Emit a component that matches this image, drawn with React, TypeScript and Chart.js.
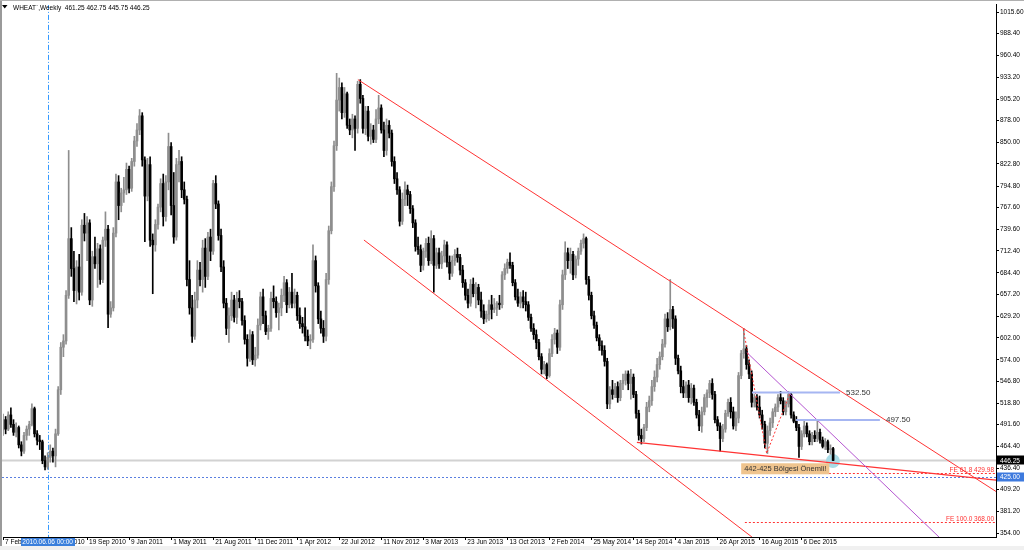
import React, { useEffect, useRef } from 'react';
import { Chart, registerables } from 'chart.js';

Chart.register(...registerables);

type Candle = [number, number, number, number]; // open, high, low, close

const headerText = 'WHEAT`,Weekly  461.25 462.75 445.75 446.25';
const firstWeekUTC = Date.UTC(2010, 1, 7);
const slotCount = 379;
const tickStep = 16;
const monthNames = ['Jan', 'Feb', 'Mar', 'Apr', 'May', 'Jun', 'Jul', 'Aug', 'Sep', 'Oct', 'Nov', 'Dec'];

const candles: Candle[] = [
  [485,505,478,498],[498,502,480,486],[486,508,484,504],[504,513,488,492],[492,498,478,482],
  [482,494,476,488],[488,490,462,466],[466,470,452,458],[458,482,455,478],[478,490,472,486],
  [486,496,478,492],[492,518,490,512],[512,514,476,480],[480,484,466,472],[472,478,460,470],
  [470,472,442,446],[446,452,434,438],[438,456,435,450],[450,466,444,458],[458,462,444,452],
  [452,486,438,480],[480,540,478,536],[536,596,530,590],[590,606,578,598],[598,662,594,656],
  [656,840,652,728],[728,742,680,690],[690,712,648,662],[662,700,645,692],[692,708,650,660],
  [660,752,656,745],[745,760,725,735],[735,756,700,748],[748,752,644,650],[650,712,642,705],
  [705,730,690,696],[696,722,666,715],[715,720,670,676],[676,730,672,726],[726,762,718,740],
  [740,745,615,632],[632,648,628,640],[640,742,636,735],[735,810,730,800],[800,808,752,770],
  [770,792,762,786],[786,806,774,790],[790,824,784,816],[816,820,786,792],[792,830,788,826],
  [826,858,820,852],[852,874,845,866],[866,892,860,884],[884,888,820,828],[828,832,724,782],
  [782,830,776,822],[822,832,718,726],[726,734,658,720],[720,752,712,746],[746,772,740,768],
  [768,804,762,798],[798,810,744,756],[756,808,750,800],[800,862,790,845],[845,850,758,770],
  [770,812,722,730],[730,830,726,822],[822,840,800,826],[826,832,780,790],[790,800,772,778],
  [778,782,668,676],[676,700,632,640],[640,656,596,604],[604,660,600,650],[650,700,640,688],
  [688,698,668,676],[676,726,660,716],[716,728,666,680],[680,736,676,730],[730,740,700,712],
  [712,802,708,798],[798,808,766,772],[772,776,726,732],[732,740,686,692],[692,700,640,646],
  [646,652,606,614],[614,640,596,630],[630,660,624,650],[650,656,622,628],[628,660,620,652],
  [652,662,640,648],[648,652,618,624],[624,630,594,600],[600,606,566,576],[576,612,572,606],
  [606,610,568,574],[574,590,566,580],[580,626,576,618],[618,660,612,654],[654,664,620,630],
  [630,636,606,610],[610,618,600,614],[614,660,610,652],[652,668,640,648],[648,654,628,634],
  [634,646,612,640],[640,664,630,656],[656,680,648,672],[672,676,634,644],[644,666,640,660],
  [660,684,640,646],[646,664,640,656],[656,660,624,630],[630,640,614,620],[620,628,608,616],
  [616,640,598,604],[604,612,592,598],[598,606,588,600],[600,720,596,700],[700,706,660,668],
  [668,672,620,626],[626,636,608,614],[614,624,596,604],[604,684,598,676],[676,744,670,738],
  [738,800,734,794],[794,852,788,846],[846,938,840,904],[904,932,890,920],[920,926,880,888],
  [888,920,882,912],[912,914,868,872],[872,880,860,866],[866,886,856,880],[880,884,840,868],
  [868,928,862,924],[924,930,900,906],[906,910,862,868],[868,896,860,890],[890,896,852,858],
  [858,874,848,866],[866,872,850,854],[854,892,850,880],[880,910,874,894],[894,898,862,866],
  [866,876,832,840],[840,880,834,872],[872,878,856,862],[862,866,820,826],[826,832,798,804],
  [804,812,784,790],[790,794,744,750],[750,786,746,778],[778,800,770,790],[790,796,770,784],
  [784,788,760,766],[766,770,742,748],[748,752,712,718],[718,730,708,714],[714,720,686,694],
  [694,716,688,712],[712,728,704,722],[722,730,694,700],[700,738,696,728],[728,732,660,694],
  [694,716,690,710],[710,716,690,696],[696,712,690,706],[706,726,698,720],[720,724,692,698],
  [698,706,676,684],[684,706,680,700],[700,714,694,708],[708,716,698,704],[704,708,682,688],
  [688,694,666,672],[672,676,650,656],[656,664,640,646],[646,676,642,670],[670,678,654,658],
  [658,672,640,666],[666,670,644,650],[650,660,628,636],[636,644,620,626],[626,636,622,632],
  [632,650,624,644],[644,656,626,638],[638,652,634,640],[640,648,630,646],[646,656,638,644],
  [644,686,640,682],[682,696,676,690],[690,702,684,698],[698,710,690,694],[694,698,668,672],
  [672,676,650,654],[654,664,642,646],[646,660,640,654],[654,662,640,648],[648,660,636,644],
  [644,648,624,628],[628,632,610,614],[614,620,600,606],[606,612,588,596],[596,600,574,578],
  [578,582,556,562],[562,572,556,568],[568,570,550,554],[554,588,552,582],[582,606,578,600],
  [600,614,594,608],[608,612,582,590],[590,650,586,644],[644,688,638,682],[682,724,676,710],
  [710,716,690,700],[700,716,684,708],[708,712,676,682],[682,706,678,702],[702,716,694,712],
  [712,726,708,722],[722,734,716,728],[728,730,670,676],[676,680,650,656],[656,660,626,630],
  [630,636,614,618],[618,622,598,602],[602,606,586,592],[592,598,580,586],[586,592,566,572],
  [572,576,512,518],
  [518,540,512,536],[536,548,524,530],[530,544,526,540],[540,546,520,526],[526,548,522,544],
  [544,556,536,548],[548,560,542,556],[556,560,536,544],[544,562,524,552],[552,556,526,530],
  [530,534,500,506],[506,510,472,478],[478,486,467,474],[474,492,470,488],[488,520,484,514],
  [514,528,508,522],[522,548,516,540],[540,560,534,552],[552,576,546,568],[568,584,562,578],
  [578,600,574,594],[594,632,590,626],[626,634,610,616],[616,676,612,638],[638,642,614,626],
  [626,630,568,576],[576,580,556,560],[560,566,532,540],[540,548,526,532],[532,546,526,542],
  [542,548,520,526],[526,544,518,538],[538,542,516,520],[520,524,500,504],[504,510,484,490],
  [490,514,482,508],[508,530,504,526],[526,536,514,532],[532,548,526,544],[544,550,524,530],
  [530,534,494,498],[498,502,484,490],[490,494,458,474],[474,492,470,486],[486,510,482,506],
  [506,524,502,520],[520,526,500,508],[508,514,486,490],[490,508,484,500],[500,558,494,554],
  [554,586,550,582],[582,614,576,588],[588,592,562,568],[568,574,550,556],[556,560,514,520],
  [520,530,514,526],[526,530,510,514],[514,528,500,504],[504,510,486,492],[492,496,462,468],
  [468,490,455,484],[484,500,478,494],[494,512,488,508],[508,518,502,514],[514,530,508,526],
  [526,534,518,522],[522,526,504,508],[508,522,504,518],[518,534,514,530],[530,532,500,504],
  [504,508,494,496],[496,502,484,488],[488,492,450,464],[464,484,460,480],[480,498,476,490],
  [490,494,476,480],[480,484,466,470],[470,482,466,478],[478,484,470,474],[474,496,470,482],
  [482,486,468,472],[472,476,462,464],[464,474,460,470],[470,472,456,460],[460,466,454,461],
  [461.25,462.75,445.75,446.25],
];

const priceTicks = [1015.6, 988.4, 960.4, 933.2, 905.2, 878.0, 850.0, 822.8, 794.8, 767.6, 739.6, 712.4,
  684.4, 657.2, 629.2, 602.0, 574.0, 546.8, 518.8, 491.6, 464.4, 436.4, 409.2, 381.2, 354.0];
const priceMin = 348.94;
const priceMax = 1024.9;

const bidPrice = 446.25;
const alertPrice = 425.0;
const markerIndex = 17;
const markerText = '2010.06.06 00:00';

// trend lines as [bar index, price] pairs
const upperChannel: [number, number][] = [[135.1, 930.0], [378.4, 405.9]];
const lowerChannel: [number, number][] = [[137.4, 726.2], [285.1, 348.9]];
const supportLine: [number, number][] = [[241.3, 469.2], [378.4, 421.1]];
const purpleLine: [number, number][] = [[283.1, 583.5], [356.3, 348.9]];
const fiboZigzag: [number, number][] = [[281.8, 613.0], [290.7, 455.0], [299.6, 531.7]];
const levelPrices = [532.5, 497.5];
const levelFrom = [285.1, 301.9];
const levelTo = [318.6, 333.8];
const levelTextAt = [320.9, 336.1];
const feLabels = ['FE 61.8 429.98', 'FE 100.0 368.00'];
const fePrices = [429.98, 368.0];
const feFrom = 282.4;
const noteText = '442-425 Bölgesi Önemli!';
const noteIndex = 281;
const notePrice = 442.6;

const FONT = 'Liberation Sans, Arial, sans-serif';
const upColor = '#8e8e8e';
const downColor = '#000000';

function weekLabel(i: number): string {
  const d = new Date(firstWeekUTC + i * 7 * 86400000);
  return `${d.getUTCDate()} ${monthNames[d.getUTCMonth()]} ${d.getUTCFullYear()}`;
}

const weekLabels = Array.from({ length: slotCount }, (_, i) => weekLabel(i));

function strokePath(ctx: CanvasRenderingContext2D, chart: any, pts: [number, number][], color: string, width: number, dash: number[]) {
  const { x, y } = chart.scales;
  ctx.save();
  ctx.strokeStyle = color;
  ctx.lineWidth = width;
  ctx.setLineDash(dash);
  ctx.beginPath();
  pts.forEach(([i, p], k) => {
    const px = x.getPixelForValue(i);
    const py = y.getPixelForValue(p);
    if (k === 0) ctx.moveTo(px, py);
    else ctx.lineTo(px, py);
  });
  ctx.stroke();
  ctx.restore();
}

const overlayPlugin = {
  id: 'mt4overlay',
  beforeDraw(chart: any) {
    const ctx: CanvasRenderingContext2D = chart.ctx;
    ctx.save();
    ctx.fillStyle = '#ffffff';
    ctx.fillRect(0, 0, chart.width, chart.height);
    ctx.fillStyle = '#f0f0f0';
    ctx.fillRect(0, 546, chart.width, 4);
    ctx.fillStyle = '#9a9a9a';
    ctx.fillRect(0, 0, 2, 546);
    ctx.fillStyle = '#b0b0b0';
    ctx.fillRect(0, 0, chart.width, 1);
    ctx.restore();
  },
  beforeDatasetsDraw(chart: any) {
    const ctx: CanvasRenderingContext2D = chart.ctx;
    const a = chart.chartArea;
    const { x, y } = chart.scales;
    ctx.save();
    ctx.beginPath();
    ctx.rect(2, a.top, a.right - 2, a.bottom - a.top);
    ctx.clip();
    // current price line
    const yb = y.getPixelForValue(bidPrice);
    ctx.strokeStyle = '#d2d2d2';
    ctx.lineWidth = 2;
    ctx.beginPath();
    ctx.moveTo(2, yb);
    ctx.lineTo(a.right, yb);
    ctx.stroke();
    // alert level
    const ya = Math.round(y.getPixelForValue(alertPrice)) + 0.5;
    ctx.strokeStyle = '#5a7fe0';
    ctx.lineWidth = 1;
    ctx.setLineDash([2, 2]);
    ctx.beginPath();
    ctx.moveTo(2, ya);
    ctx.lineTo(a.right, ya);
    ctx.stroke();
    // vertical marker
    const xm = Math.round(x.getPixelForValue(markerIndex)) + 0.5;
    ctx.strokeStyle = '#3399ff';
    ctx.setLineDash([5, 2, 1, 2]);
    ctx.beginPath();
    ctx.moveTo(xm, a.top);
    ctx.lineTo(xm, a.bottom);
    ctx.stroke();
    ctx.setLineDash([]);
    // highlight circle on last bar
    const last = candles.length - 1;
    ctx.fillStyle = '#a9dbe6';
    ctx.beginPath();
    ctx.arc(x.getPixelForValue(last - 0.1), y.getPixelForValue(445.5), 7, 0, Math.PI * 2);
    ctx.fill();
    ctx.restore();
  },
  afterDatasetsDraw(chart: any) {
    const ctx: CanvasRenderingContext2D = chart.ctx;
    const a = chart.chartArea;
    const { x, y } = chart.scales;
    ctx.save();
    ctx.beginPath();
    ctx.rect(a.left, a.top, a.right - a.left, a.bottom - a.top);
    ctx.clip();
    const red = '#ff3333';
    strokePath(ctx, chart, upperChannel, red, 1, []);
    strokePath(ctx, chart, lowerChannel, red, 1, []);
    strokePath(ctx, chart, supportLine, red, 1.2, []);
    strokePath(ctx, chart, purpleLine, '#b455d0', 1, []);
    strokePath(ctx, chart, fiboZigzag, red, 1, [2, 2]);
    // fibo expansion levels
    fePrices.forEach((p, k) => {
      const py = Math.round(y.getPixelForValue(p)) + 0.5;
      ctx.save();
      ctx.strokeStyle = red;
      ctx.lineWidth = 1;
      ctx.setLineDash([2, 2]);
      ctx.beginPath();
      ctx.moveTo(x.getPixelForValue(feFrom), py);
      ctx.lineTo(a.right, py);
      ctx.stroke();
      ctx.restore();
      ctx.fillStyle = red;
      ctx.font = `6.5px ${FONT}`;
      ctx.textAlign = 'right';
      ctx.textBaseline = 'alphabetic';
      ctx.fillText(feLabels[k], a.right - 2, py - 1.5);
    });
    // horizontal levels
    levelPrices.forEach((p, k) => {
      const py = y.getPixelForValue(p);
      ctx.strokeStyle = '#a6b6f2';
      ctx.lineWidth = 2;
      ctx.beginPath();
      ctx.moveTo(x.getPixelForValue(levelFrom[k]), py);
      ctx.lineTo(x.getPixelForValue(levelTo[k]), py);
      ctx.stroke();
      ctx.fillStyle = '#333333';
      ctx.font = `8px ${FONT}`;
      ctx.textAlign = 'left';
      ctx.textBaseline = 'middle';
      ctx.fillText(p.toFixed(2), x.getPixelForValue(levelTextAt[k]), py);
    });
    // note box
    ctx.font = `7.5px ${FONT}`;
    const tw = ctx.measureText(noteText).width;
    const nx = x.getPixelForValue(noteIndex);
    const ny = y.getPixelForValue(notePrice);
    ctx.fillStyle = '#efc48e';
    ctx.fillRect(nx, ny, tw + 6, 11);
    ctx.fillStyle = '#333333';
    ctx.textAlign = 'left';
    ctx.textBaseline = 'middle';
    ctx.fillText(noteText, nx + 3, ny + 5.8);
    ctx.restore();
  },
  afterDraw(chart: any) {
    const ctx: CanvasRenderingContext2D = chart.ctx;
    const a = chart.chartArea;
    const { x, y } = chart.scales;
    ctx.save();
    ctx.font = `6.5px ${FONT}`;
    ctx.textBaseline = 'middle';
    // price boxes on axis
    const yb = y.getPixelForValue(bidPrice);
    ctx.fillStyle = '#000000';
    ctx.fillRect(a.right + 1, Math.round(yb) - 4.5, 27, 9);
    ctx.fillStyle = '#ffffff';
    ctx.textAlign = 'left';
    ctx.fillText(bidPrice.toFixed(2), a.right + 4, yb + 0.5);
    const ya = y.getPixelForValue(alertPrice);
    ctx.fillStyle = '#3e7ade';
    ctx.fillRect(a.right + 1, Math.round(ya) - 4.5, 27, 9);
    ctx.fillStyle = '#ffffff';
    ctx.fillText(alertPrice.toFixed(2), a.right + 4, ya + 0.5);
    // date box under marker
    const xm = x.getPixelForValue(markerIndex);
    ctx.fillStyle = '#3a7fdc';
    ctx.fillRect(Math.round(xm) - 27, a.bottom + 1, 54, 8);
    ctx.fillStyle = '#ffffff';
    ctx.textAlign = 'center';
    ctx.fillText(markerText, xm, a.bottom + 5.2);
    // header
    ctx.fillStyle = '#000000';
    ctx.beginPath();
    ctx.moveTo(2, 5);
    ctx.lineTo(7.5, 5);
    ctx.lineTo(4.75, 8.5);
    ctx.closePath();
    ctx.fill();
    ctx.textAlign = 'left';
    ctx.fillText(headerText, 13, 8.5);
    ctx.restore();
  },
};

export default function App() {
  const canvasRef = useRef<HTMLCanvasElement | null>(null);

  useEffect(() => {
    const canvas = canvasRef.current;
    if (!canvas) return;
    const colors = candles.map((c) => (c[3] >= c[0] ? upColor : downColor));
    const tickFont = { family: FONT, size: 6.5 };
    const chart = new Chart(canvas, {
      type: 'bar',
      data: {
        labels: weekLabels,
        datasets: [
          {
            data: candles.map((c) => [c[2], c[1]]),
            backgroundColor: colors,
            barThickness: 1,
            grouped: false,
            order: 2,
          } as any,
          {
            data: candles.map((c) => [c[0], c[3]]),
            backgroundColor: colors,
            barThickness: 2,
            minBarLength: 1,
            grouped: false,
            order: 1,
          } as any,
        ],
      },
      options: {
        responsive: false,
        animation: false,
        devicePixelRatio: 1,
        events: [],
        layout: { padding: { left: 3, top: 3, right: 0, bottom: 0 } },
        plugins: { legend: { display: false }, tooltip: { enabled: false } },
        scales: {
          x: {
            type: 'category',
            offset: false,
            grid: { display: true, drawOnChartArea: false, drawTicks: true, tickLength: 3, color: '#000000', offset: false },
            border: { display: true, color: '#000000', width: 1 },
            ticks: {
              autoSkip: false,
              maxRotation: 0,
              minRotation: 0,
              align: 'start',
              labelOffset: 2,
              padding: -2,
              color: '#000000',
              font: tickFont,
              callback: (v: any) => weekLabels[Number(v)],
            },
            afterBuildTicks: (s: any) => {
              s.ticks = s.ticks.filter((t: any) => t.value % tickStep === 0 && t.value < candles.length);
            },
            afterFit: (s: any) => {
              s.height = 13;
            },
          },
          y: {
            type: 'linear',
            position: 'right',
            min: priceMin,
            max: priceMax,
            grid: { display: true, drawOnChartArea: false, drawTicks: true, tickLength: 3, color: '#000000' },
            border: { display: true, color: '#000000', width: 1 },
            ticks: {
              autoSkip: false,
              padding: 1,
              color: '#000000',
              font: tickFont,
              callback: (v: any) => Number(v).toFixed(2),
            },
            afterBuildTicks: (s: any) => {
              s.ticks = priceTicks.map((v) => ({ value: v }));
            },
            afterFit: (s: any) => {
              s.width = 28;
            },
          },
        },
      } as any,
      plugins: [overlayPlugin],
    });
    return () => chart.destroy();
  }, []);

  return (
    <div style={{ position: 'fixed', left: 0, top: 0, width: 1024, height: 550, background: '#fff' }}>
      <canvas ref={canvasRef} width={1024} height={550} style={{ display: 'block', width: 1024, height: 550 }} />
    </div>
  );
}
